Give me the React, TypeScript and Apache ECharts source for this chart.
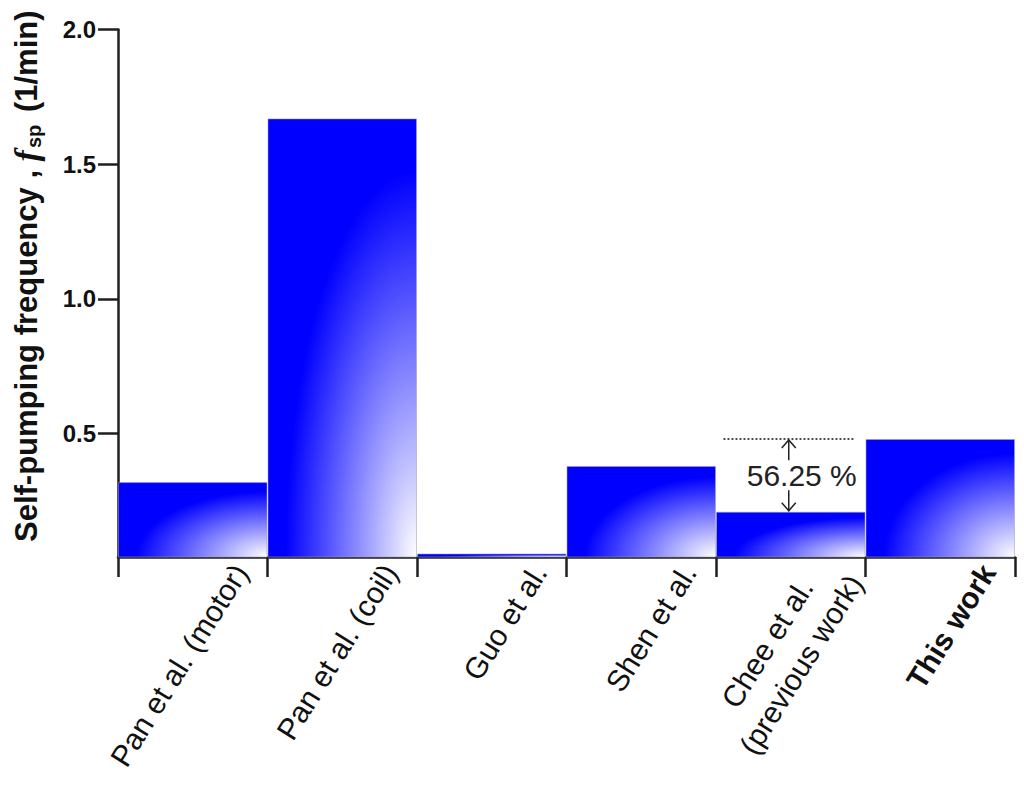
import React, { useEffect, useRef } from 'react';
import * as echarts from 'echarts';

// ---------- data ----------
const categories: string[] = [
  'Pan et al. (motor)',
  'Pan et al. (coil)',
  'Guo et al.',
  'Shen et al.',
  'Chee et al.\n(previous work)',
  'This work',
];
const frequencies: number[] = [0.32, 1.67, 0.055, 0.38, 0.21, 0.48];
const yTickValues: number[] = [0.5, 1.0, 1.5, 2.0];
const yMin = 0.042;
const yMax = 2.0;
// annotation compares "Chee et al." (lower) with "This work" (higher)
const compareLowIndex = 4;
const compareHighIndex = 5;

// ---------- style constants ----------
const SANS = "'Liberation Sans', Arial, Helvetica, sans-serif";
const AXIS_COLOR = '#1e1e1e';
const LABEL_SHIFT = 0.82; // label anchor within a category (0..1)

function labelFormatter(v: number): string {
  const i = Math.round(v - LABEL_SHIFT);
  const name = categories[i] ?? '';
  if (i === categories.length - 1) return `{bold|${name}}`;
  if (name.indexOf('\n') >= 0) {
    const [a, b] = name.split('\n');
    return `{first|${a}}\n{norm|${b}}`;
  }
  return `{norm|${name}}`;
}

export default function App() {
  const ref = useRef<HTMLDivElement>(null);

  useEffect(() => {
    if (!ref.current) return;
    const chart = echarts.init(ref.current, undefined, { renderer: 'svg' });

    const barGradient = {
      type: 'radial',
      x: 1,
      y: 1,
      r: 1,
      colorStops: [
        { offset: 0, color: '#ffffff' },
        { offset: 0.88, color: '#0000ff' },
        { offset: 1, color: '#0000ff' },
      ],
    };

    const option: any = {
      animation: false,
      backgroundColor: '#ffffff',
      grid: {
        left: 118,
        right: 9,
        top: 29.5,
        bottom: 229,
        containLabel: false,
        outerBoundsMode: 'none',
      },
      xAxis: [
        {
          type: 'category',
          position: 'bottom',
          data: categories,
          boundaryGap: true,
          axisLine: { show: true, lineStyle: { color: AXIS_COLOR, width: 2.5 } },
          axisTick: { show: true, length: 20, lineStyle: { color: AXIS_COLOR, width: 2.5 } },
          axisLabel: { show: false },
          splitLine: { show: false },
        },
        {
          type: 'value',
          position: 'bottom',
          min: 0,
          max: categories.length,
          axisLine: { show: false },
          axisTick: { show: false },
          splitLine: { show: false },
          axisLabel: {
            show: true,
            customValues: categories.map((_, i) => i + LABEL_SHIFT),
            formatter: labelFormatter,
            rotate: 58,
            margin: 10,
            color: '#111',
            fontFamily: SANS,
            fontSize: 30,
            rich: {
              norm: { fontFamily: SANS, fontSize: 30, color: '#111', lineHeight: 40 },
              first: {
                fontFamily: SANS,
                fontSize: 30,
                color: '#111',
                lineHeight: 40,
                padding: [0, 30, 0, 0],
              },
              bold: { fontFamily: SANS, fontSize: 30, fontWeight: 'bold', color: '#111', lineHeight: 40 },
            },
          },
        },
      ],
      yAxis: {
        type: 'value',
        min: yMin,
        max: yMax,
        axisLine: { show: true, lineStyle: { color: AXIS_COLOR, width: 2.5 } },
        axisTick: {
          show: true,
          length: 20,
          customValues: yTickValues,
          lineStyle: { color: AXIS_COLOR, width: 2.5 },
        },
        axisLabel: {
          customValues: yTickValues,
          formatter: (v: number) => v.toFixed(1),
          margin: 22,
          fontFamily: SANS,
          fontSize: 24,
          fontWeight: 'bold',
          color: '#111',
        },
        splitLine: { show: false },
        name: '{b|Self-pumping frequency , }{f|f}{s|sp}{b| (1/min)}',
        nameLocation: 'middle',
        nameGap: 74,
        nameRotate: 90,
        nameTextStyle: {
          padding: [0, 0, 0, 34],
          rich: {
            b: { fontFamily: SANS, fontSize: 31, fontWeight: 'bold', color: '#111', lineHeight: 36 },
            f: {
              fontFamily: "'Liberation Serif', 'Times New Roman', serif",
              fontSize: 34,
              fontWeight: 'bold',
              fontStyle: 'italic',
              color: '#111',
              lineHeight: 36,
            },
            s: {
              fontFamily: SANS,
              fontSize: 20,
              fontWeight: 'bold',
              color: '#111',
              lineHeight: 20,
              verticalAlign: 'bottom',
              padding: [0, 4, 0, 2],
            },
          },
        },
      },
      series: [
        {
          type: 'bar',
          xAxisIndex: 0,
          yAxisIndex: 0,
          data: frequencies,
          barCategoryGap: '0%',
          itemStyle: {
            color: barGradient,
            borderColor: 'rgba(160,160,180,0.55)',
            borderWidth: 1,
          },
          z: 2,
        },
        {
          type: 'custom',
          xAxisIndex: 0,
          yAxisIndex: 0,
          silent: true,
          z: 5,
          encode: { x: 0, y: [1, 2] },
          data: [[compareLowIndex, frequencies[compareHighIndex], frequencies[compareLowIndex]]],
          renderItem: (params: any, api: any) => {
            const idx = api.value(0);
            const hi = api.value(1);
            const lo = api.value(2);
            const top = api.coord([idx, hi]);
            const bot = api.coord([idx, lo]);
            const w = api.size([1, 0])[0];
            const cx = top[0] - 2;
            const mid = (top[1] + bot[1]) / 2;
            const pct = ((1 - lo / hi) * 100).toFixed(2) + ' %';
            const stroke = { stroke: '#222', lineWidth: 1.5, fill: 'none' };
            return {
              type: 'group',
              children: [
                {
                  type: 'line',
                  shape: { x1: top[0] - 0.45 * w, y1: top[1], x2: top[0] + 0.42 * w, y2: top[1] },
                  style: { stroke: '#111', lineWidth: 1.5, lineDash: [2, 2] },
                },
                { type: 'line', shape: { x1: cx, y1: top[1] + 1, x2: cx, y2: mid - 15 }, style: stroke },
                { type: 'line', shape: { x1: cx, y1: mid + 15, x2: cx, y2: bot[1] - 1 }, style: stroke },
                {
                  type: 'polyline',
                  shape: { points: [[cx - 7, top[1] + 9], [cx, top[1] + 1], [cx + 7, top[1] + 9]] },
                  style: stroke,
                },
                {
                  type: 'polyline',
                  shape: { points: [[cx - 7, bot[1] - 9], [cx, bot[1] - 1], [cx + 7, bot[1] - 9]] },
                  style: stroke,
                },
                {
                  type: 'text',
                  x: top[0] + 11,
                  y: mid,
                  style: {
                    text: pct,
                    fontFamily: SANS,
                    fontSize: 30,
                    fill: '#222',
                    align: 'center',
                    verticalAlign: 'middle',
                  },
                },
              ],
            };
          },
        },
      ],
    };

    chart.setOption(option);
    return () => chart.dispose();
  }, []);

  return (
    <div
      ref={ref}
      style={{ position: 'absolute', left: 0, top: 0, width: 1024, height: 786, background: '#fff' }}
    />
  );
}
